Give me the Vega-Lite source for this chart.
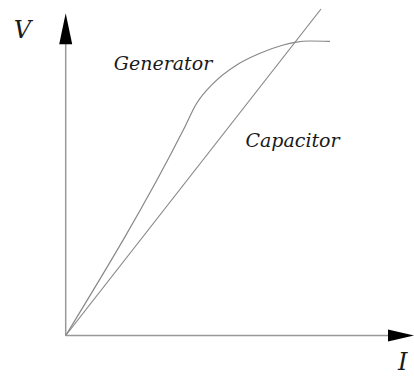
{
  "$schema": "https://vega.github.io/schema/vega-lite/v6.json",
  "width": 414,
  "height": 376,
  "padding": 0,
  "autosize": {"type": "none"},
  "background": "white",
  "config": {"view": {"stroke": null}},
  "datasets": {
    "axes": [
      {"x": 0, "y": 0, "x2": 3.25, "y2": 0},
      {"x": 0, "y": 0, "x2": 0, "y2": 2.95}
    ],
    "curves": [
      {"series": "Capacitor", "I": 0, "V": 0},
      {"series": "Capacitor", "I": 2.553, "V": 3.265},
      {"series": "Generator", "I": 0, "V": 0},
      {"series": "Generator", "I": 1.176, "V": 2.055},
      {"series": "Generator", "I": 1.31, "V": 2.322},
      {"series": "Generator", "I": 1.476, "V": 2.522},
      {"series": "Generator", "I": 1.71, "V": 2.705},
      {"series": "Generator", "I": 1.943, "V": 2.822},
      {"series": "Generator", "I": 2.176, "V": 2.905},
      {"series": "Generator", "I": 2.293, "V": 2.932},
      {"series": "Generator", "I": 2.443, "V": 2.945},
      {"series": "Generator", "I": 2.643, "V": 2.942}
    ],
    "labels": [
      {"label": "Generator", "x": 0.973, "y": 2.655},
      {"label": "Capacitor", "x": 2.268, "y": 1.888}
    ],
    "axisLabels": [
      {"label": "V", "x": -0.432, "y": 2.975},
      {"label": "I", "x": 3.37, "y": -0.34}
    ],
    "xArrow": [{"x": 3.353, "y": 0}],
    "yArrow": [{"x": 0, "y": 3.067}]
  },
  "layer": [
    {
      "data": {"name": "axes"},
      "mark": {"type": "rule", "color": "#999999", "strokeWidth": 1.5},
      "encoding": {
        "x": {"field": "x", "type": "quantitative", "scale": {"domain": [-0.657, 3.483], "nice": false, "zero": false}, "axis": null},
        "y": {"field": "y", "type": "quantitative", "scale": {"domain": [-0.405, 3.355], "nice": false, "zero": false}, "axis": null},
        "x2": {"field": "x2"},
        "y2": {"field": "y2"}
      }
    },
    {
      "data": {"name": "curves"},
      "mark": {"type": "line", "color": "#888888", "strokeWidth": 1.2, "interpolate": "monotone"},
      "encoding": {
        "x": {"field": "I", "type": "quantitative"},
        "y": {"field": "V", "type": "quantitative"},
        "detail": {"field": "series"}
      }
    },
    {
      "data": {"name": "xArrow"},
      "mark": {"type": "point", "shape": "M-1,-0.46 L1,0 L-1,0.46 Z", "filled": true, "color": "black", "opacity": 1, "size": 676},
      "encoding": {
        "x": {"field": "x", "type": "quantitative"},
        "y": {"field": "y", "type": "quantitative"}
      }
    },
    {
      "data": {"name": "yArrow"},
      "mark": {"type": "point", "shape": "M-0.42,1 L0,-1 L0.42,1 Z", "filled": true, "color": "black", "opacity": 1, "size": 961},
      "encoding": {
        "x": {"field": "x", "type": "quantitative"},
        "y": {"field": "y", "type": "quantitative"}
      }
    },
    {
      "data": {"name": "labels"},
      "mark": {"type": "text", "font": "DejaVu Serif", "fontStyle": "italic", "fontSize": 19, "align": "center", "baseline": "alphabetic", "color": "#1a1a1a"},
      "encoding": {
        "x": {"field": "x", "type": "quantitative"},
        "y": {"field": "y", "type": "quantitative"},
        "text": {"field": "label"}
      }
    },
    {
      "data": {"name": "axisLabels"},
      "mark": {"type": "text", "font": "DejaVu Serif", "fontStyle": "italic", "fontSize": 24, "align": "center", "baseline": "alphabetic", "color": "#1a1a1a"},
      "encoding": {
        "x": {"field": "x", "type": "quantitative"},
        "y": {"field": "y", "type": "quantitative"},
        "text": {"field": "label"}
      }
    }
  ]
}
